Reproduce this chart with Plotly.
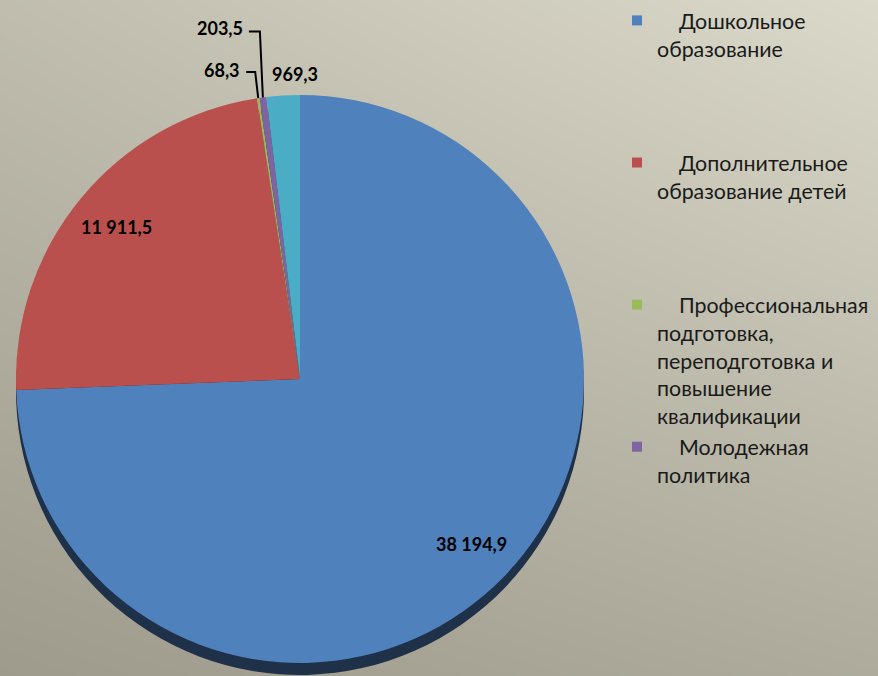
import math
import plotly.graph_objects as go

# ---------------- data ----------------
categories = [
    "Дошкольное образование",
    "Дополнительное образование детей",
    "Профессиональная подготовка, переподготовка и повышение квалификации",
    "Молодежная политика",
    "Прочие",
]
values = [38194.9, 11911.5, 68.3, 203.5, 969.3]
legend_lines = [
    ["Дошкольное", "образование"],
    ["Дополнительное", "образование детей"],
    ["Профессиональная", "подготовка,", "переподготовка и", "повышение", "квалификации"],
    ["Молодежная", "политика"],
]

# ---------------- style ----------------
W, H = 878, 676
CX, CY, R = 300, 379, 284
SHADOW_DY = 12
colors = ["#4F81BD", "#BA504D", "#9BBB59", "#8064A2", "#4BACC6"]
shadow_colors = ["#1F3049", "#4A2020", "#3E4B24", "#332841", "#1E4550"]
FONT = "Lato"


def fmt(v):
    s = f"{v:,.1f}"
    return s.replace(",", " ").replace(".", ",")


def px(x):
    return min(max(x / W, 0.0), 1.0)


def py(y):
    return min(max(1 - y / H, 0.0), 1.0)


fig = go.Figure()

# background gradient (diagonal, lighter top-right)
fig.add_trace(go.Heatmap(
    x=[0, 1], y=[0, 1], z=[[0.0, 0.26], [0.55, 1.0]],
    zsmooth="best", showscale=False, hoverinfo="skip",
    colorscale=[[0, "rgb(158,155,140)"], [1, "rgb(219,217,202)"]],
    zmin=0, zmax=1,
))

dom_x = [px(CX - R), px(CX + R)]
dom_y = [py(CY + R), py(CY - R)]
dom_y_sh = [py(CY + R + SHADOW_DY), py(CY - R + SHADOW_DY)]

# shadow (depth) pie
fig.add_trace(go.Pie(
    labels=categories, values=values, sort=False, direction="clockwise",
    marker=dict(colors=shadow_colors, line=dict(width=0)),
    textinfo="none", hoverinfo="skip", showlegend=False,
    domain=dict(x=dom_x, y=dom_y_sh),
))
# main pie
fig.add_trace(go.Pie(
    labels=categories, values=values, sort=False, direction="clockwise",
    marker=dict(colors=colors, line=dict(width=0)),
    textinfo="none", showlegend=False,
    domain=dict(x=dom_x, y=dom_y),
))

# legend entries (first 4 categories, as in the reference)
for i, lines in enumerate(legend_lines):
    txt = ["\u00a0\u00a0\u00a0\u00a0" + lines[0]] + lines[1:]
    if i < len(legend_lines) - 1:
        txt += ["\u00a0"] * (5 - len(txt))
    fig.add_trace(go.Scatter(
        x=[None], y=[None], mode="markers", name="<br>".join(txt),
        marker=dict(symbol="square", size=10, color=colors[i]),
        showlegend=True,
    ))

# data labels computed from slice geometry
total = sum(values)
cum = 0.0
mids = []
for v in values:
    mids.append(360.0 * (cum + v / 2) / total)
    cum += v


def pt(theta, r):
    t = math.radians(theta)
    return CX + r * math.sin(t), CY - r * math.cos(t)


annotations = []
shapes = []
lab_font = dict(family=FONT, size=18, color="#000000", weight="bold")
common = dict(xref="paper", yref="paper", showarrow=False, font=lab_font, yanchor="middle")
# big slices: inside labels
for i in (0, 1):
    x, y = pt(mids[i], 0.84 * R)
    annotations.append(dict(x=px(x), y=py(y), xanchor="center", text=fmt(values[i]), **common))

# small slices with leader lines
# green (68,3)
ex, ey = pt(mids[2], R)
annotations.append(dict(x=px(ex - 16), y=py(ey - 28), xanchor="right", text=fmt(values[2]), **common))
shapes.append(dict(type="path", xref="paper", yref="paper",
                   path=f"M {px(ex-12)},{py(ey-26)} L {px(ex-3)},{py(ey-26)} L {px(ex)},{py(ey)}",
                   line=dict(color="#000000", width=2)))
# purple (203,5)
ex, ey = pt(mids[3], R)
annotations.append(dict(x=px(ex - 18), y=py(ey - 69), xanchor="right", text=fmt(values[3]), **common))
shapes.append(dict(type="path", xref="paper", yref="paper",
                   path=f"M {px(ex-14)},{py(ey-66)} L {px(ex-3)},{py(ey-66)} L {px(ex)},{py(ey)}",
                   line=dict(color="#000000", width=2)))
# teal (969,3)
ex, ey = pt(mids[4], R)
annotations.append(dict(x=px(ex - 13), y=py(ey - 21), xanchor="left", text=fmt(values[4]), **common))

fig.update_layout(
    width=W, height=H, autosize=False,
    margin=dict(l=0, r=0, t=0, b=0),
    paper_bgcolor="rgb(190,188,174)", plot_bgcolor="rgba(0,0,0,0)",
    xaxis=dict(visible=False, range=[0, 1], domain=[0, 1], fixedrange=True),
    yaxis=dict(visible=False, range=[0, 1], domain=[0, 1], fixedrange=True),
    showlegend=True,
    legend=dict(x=617 / W, y=1.0, xanchor="left", yanchor="top",
                valign="top", bgcolor="rgba(0,0,0,0)", maxheight=1.0,
                font=dict(family=FONT, size=21.4, color="#1A1A1A"),
                itemclick=False, itemdoubleclick=False),
    annotations=annotations,
    shapes=shapes,
)

fig.write_html("out.html", config={"displayModeBar": False},
               post_script="document.body.style.margin='0';")
